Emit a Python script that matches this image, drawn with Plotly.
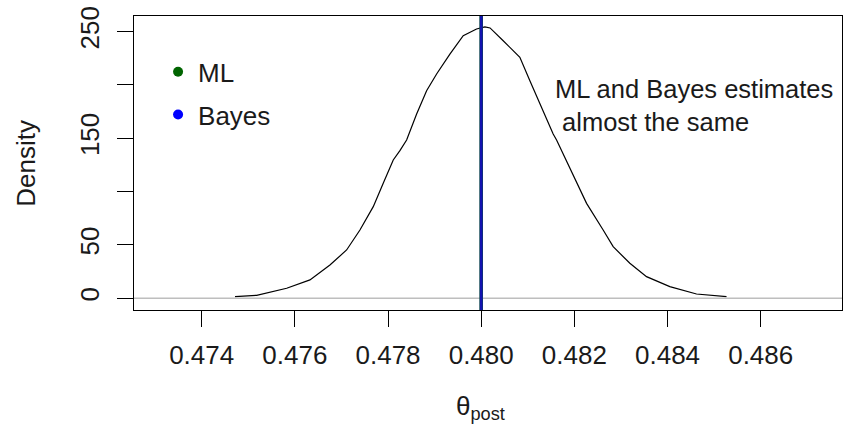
import plotly.graph_objects as go

# Posterior density curve
theta_post = [0.474715, 0.47518, 0.475824, 0.476324, 0.476753, 0.477111, 0.477397,
              0.477683, 0.477897, 0.478112, 0.478255, 0.478399, 0.478614, 0.478828,
              0.479043, 0.479328, 0.479614, 0.479900, 0.48008, 0.48019, 0.480472,
              0.480830, 0.481045, 0.481260, 0.481545, 0.481618, 0.481725, 0.481903,
              0.482262, 0.482618, 0.482833, 0.483191, 0.483549, 0.484049, 0.484622,
              0.485266]
density = [1.5, 2.8, 9.4, 17.2, 31.2, 45.3, 64.0,
           85.9, 107.8, 129.7, 138.4, 148.4, 172.8, 194.7,
           210.3, 229.0, 246.2, 252.5, 254.5, 253.5, 241.5,
           226.0, 204.0, 182.2, 154.0, 148.4, 138.4, 123.4,
           89.0, 64.0, 48.4, 32.8, 20.3, 10.9, 4.0,
           1.5]

ml_estimate = 0.48
bayes_estimate = 0.48

x_ticks = [0.474, 0.476, 0.478, 0.480, 0.482, 0.484, 0.486]
x_tick_labels = ["0.474", "0.476", "0.478", "0.480", "0.482", "0.484", "0.486"]
y_ticks = [0, 50, 100, 150, 200, 250]
y_tick_labels = ["0", "50", "", "150", "", "250"]

FONT = "Liberation Sans, Arial, sans-serif"
FS = 26

fig = go.Figure()
fig.add_trace(go.Scatter(x=theta_post, y=density, mode="lines",
                         line=dict(color="black", width=1.2), showlegend=False,
                         hoverinfo="skip"))
fig.add_trace(go.Scatter(x=[None], y=[None], mode="markers", name="ML",
                         marker=dict(color="#006400", size=10), legendgroup="ml"))
fig.add_trace(go.Scatter(x=[None], y=[None], mode="markers", name="Bayes",
                         marker=dict(color="#0000FF", size=10), legendgroup="bayes"))

# grey line at zero
fig.add_shape(type="line", xref="paper", x0=0, x1=1, yref="y", y0=0, y1=0,
              line=dict(color="#BEBEBE", width=1.5))
# ML and Bayes estimate lines
fig.add_shape(type="line", xref="x", x0=ml_estimate, x1=ml_estimate, yref="paper",
              y0=0, y1=1, line=dict(color="#006400", width=3.5))
fig.add_shape(type="line", xref="x", x0=bayes_estimate, x1=bayes_estimate, yref="paper",
              y0=0, y1=1, line=dict(color="#1212B0", width=3))

fig.add_annotation(xref="paper", yref="paper", x=0.5918, y=0.694,
                   xanchor="left", yanchor="middle", align="left", showarrow=False,
                   text="ML and Bayes estimates<br> almost the same",
                   font=dict(family=FONT, size=25.5, color="#1a1a1a"))
fig.add_annotation(xref="paper", yref="paper", x=-0.153, y=0.5,
                   xanchor="center", yanchor="middle", showarrow=False, textangle=-90,
                   text="Density", font=dict(family=FONT, size=FS, color="#1a1a1a"))
fig.add_annotation(xref="paper", yref="paper", x=0.49, y=-0.33,
                   xanchor="center", yanchor="middle", showarrow=False,
                   text="θ<sub>post</sub>", font=dict(family=FONT, size=FS, color="#1a1a1a"))

fig.update_layout(
    width=845, height=433,
    margin=dict(l=134, r=3, t=16, b=123),
    paper_bgcolor="white", plot_bgcolor="white",
    font=dict(family=FONT, size=FS, color="#1a1a1a"),
    showlegend=True,
    legend=dict(x=0.034, y=0.89, xanchor="left", yanchor="top",
                bgcolor="rgba(0,0,0,0)", font=dict(family=FONT, size=FS, color="#1a1a1a"),
                traceorder="grouped", tracegroupgap=6, itemclick=False),
    xaxis=dict(range=[0.472547, 0.487745], tickvals=x_ticks, ticktext=x_tick_labels,
               ticks="outside", ticklen=16, tickcolor="black", tickwidth=1,
               showline=True, linecolor="black", linewidth=1.2, mirror=True,
               showgrid=False, zeroline=False, ticklabelstandoff=6, automargin=False,
               ticklabeloverflow="allow"),
    yaxis=dict(range=[-11, 264.7], tickvals=y_ticks, ticktext=y_tick_labels,
               ticks="outside", ticklen=16, tickcolor="black", tickwidth=1,
               showline=True, linecolor="black", linewidth=1.2, mirror=True,
               showgrid=False, zeroline=False, tickangle=-90, ticklabelstandoff=8,
               automargin=False, ticklabeloverflow="allow"),
)

# remove the default 8px page margin so the figure sits at the window's corner
fig.write_html("out.html", config={"displayModeBar": False},
               post_script="document.body.style.margin='0';document.body.style.padding='0';")
